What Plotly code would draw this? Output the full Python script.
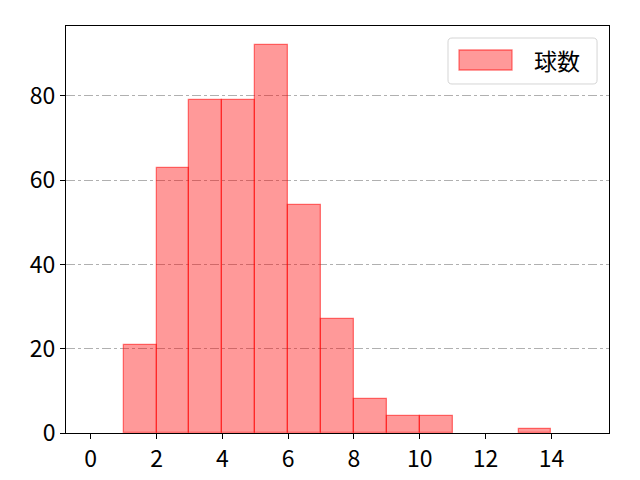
import plotly.graph_objects as go

bin_left = [0, 1, 2, 3, 4, 5, 6, 7, 8, 9, 10, 11, 12, 13, 14]
counts = [0, 21, 63, 79, 79, 92, 54, 27, 8, 4, 4, 0, 0, 1, 0]
series_name = "球数"
x_ticks = [0, 2, 4, 6, 8, 10, 12, 14]
y_ticks = [0, 20, 40, 60, 80]

# draw only non-empty bins (empty bins have no visible patch in the reference)
xs = [b + 0.5 for b, c in zip(bin_left, counts) if c > 0]
ys = [c for c in counts if c > 0]

fill = "rgba(255,0,0,0.4)"
edge = "rgba(255,0,0,0.5)"

fig = go.Figure()
fig.add_trace(go.Bar(
    x=xs, y=ys, width=1, name=series_name,
    marker=dict(color=fill, line=dict(color=edge, width=1.3)),
    showlegend=False,
))

font = "Noto Sans CJK JP, DejaVu Sans, sans-serif"

# manual legend (matplotlib-like, rounded frame) in paper coordinates
def rounded_rect(x0, y0, x1, y1, rx, ry):
    return (f"M {x0+rx},{y0} L {x1-rx},{y0} Q {x1},{y0} {x1},{y0+ry} "
            f"L {x1},{y1-ry} Q {x1},{y1} {x1-rx},{y1} L {x0+rx},{y1} "
            f"Q {x0},{y1} {x0},{y1-ry} L {x0},{y0+ry} Q {x0},{y0} {x0+rx},{y0} Z")

shapes = [
    dict(type="path", xref="paper", yref="paper",
         path=rounded_rect(0.7035, 0.8575, 0.978, 0.9705, 0.0074, 0.0098),
         line=dict(color="#d5d5d5", width=1), fillcolor="rgba(255,255,255,0.8)"),
    dict(type="rect", xref="paper", yref="paper",
         x0=0.7238, x1=0.8214, y0=0.8919, y1=0.941,
         line=dict(color=edge, width=1.3), fillcolor=fill),
]
annotations = [
    dict(xref="paper", yref="paper", x=0.859, y=0.916, xanchor="left", yanchor="middle",
         text=series_name, showarrow=False, font=dict(size=23, family=font, color="black")),
]

fig.update_layout(
    width=640, height=480,
    margin=dict(l=58, r=39, t=18, b=55),
    paper_bgcolor="white", plot_bgcolor="white",
    font=dict(family=font, size=23, color="black"),
    bargap=0,
    showlegend=False,
    shapes=shapes,
    annotations=annotations,
    xaxis=dict(range=[-0.75, 15.75], tickvals=x_ticks, showgrid=False,
               showline=True, linecolor="black", linewidth=1, mirror=True,
               ticks="outside", ticklen=5, tickcolor="black", zeroline=False),
    yaxis=dict(range=[0, 96.6], tickvals=y_ticks, showgrid=True,
               gridcolor="#b0b0b0", griddash="dashdot", gridwidth=0.8,
               showline=True, linecolor="black", linewidth=1, mirror=True,
               ticks="outside", ticklen=5, tickcolor="black", zeroline=False),
)
fig.write_html("out.html")
